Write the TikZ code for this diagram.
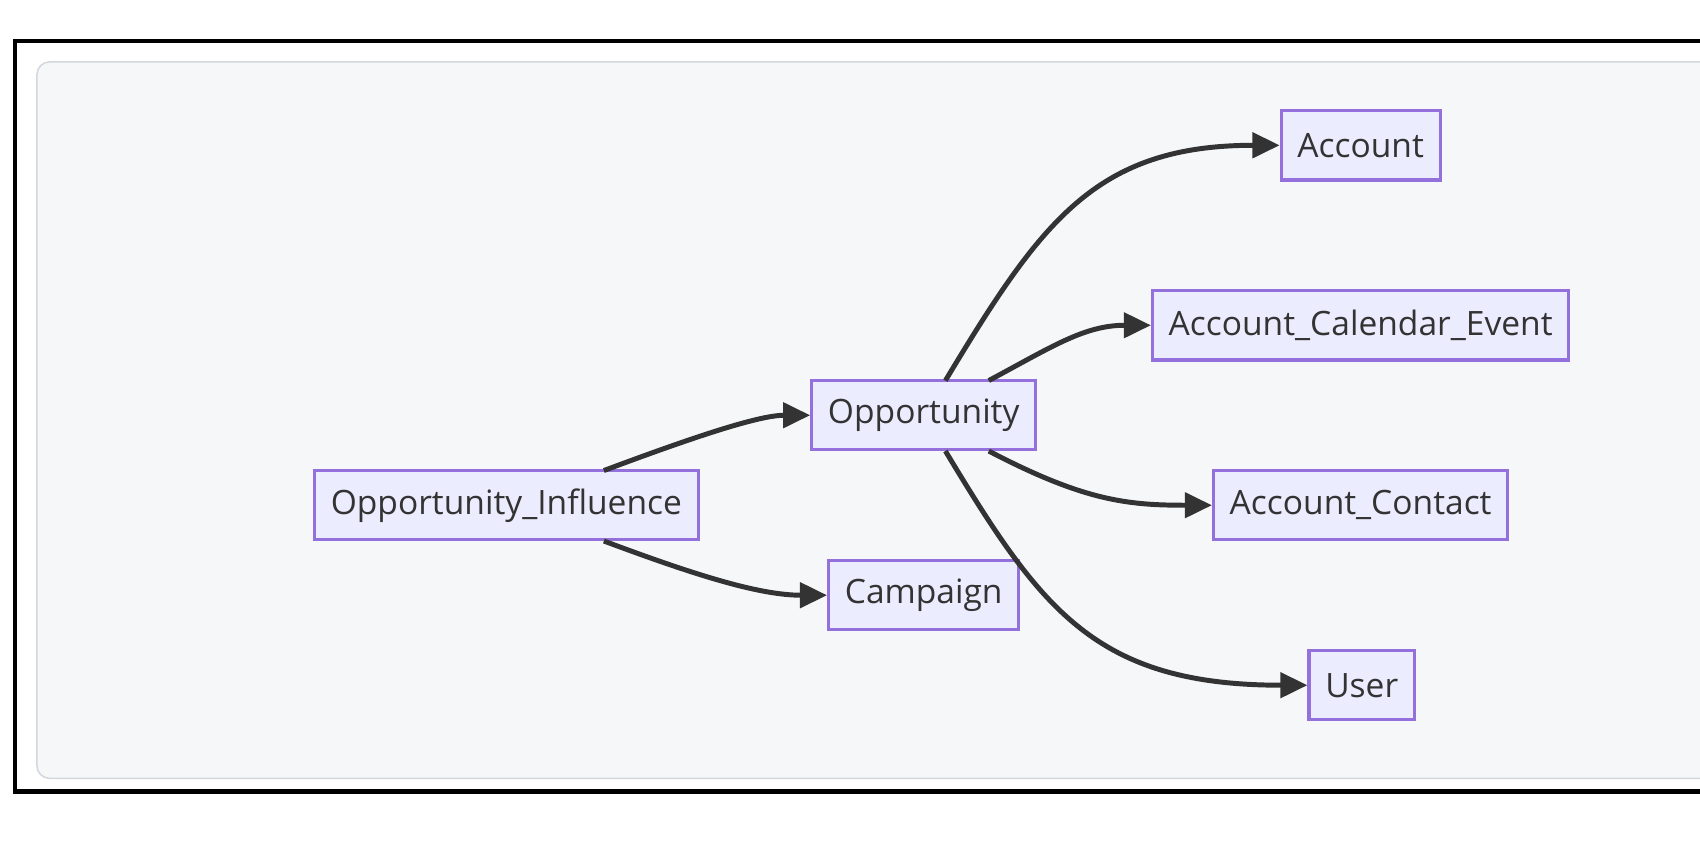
\documentclass[tikz,border=0pt]{standalone}
\usepackage{fontspec}
\setmainfont{Open Sans}
\usetikzlibrary{arrows.meta}
\definecolor{boxfill}{HTML}{ECECFF}
\definecolor{boxline}{HTML}{9370DB}
\definecolor{panel}{HTML}{F6F7F9}
\definecolor{panelline}{HTML}{D3D7DD}
\definecolor{edge}{HTML}{333333}
\begin{document}
\begin{tikzpicture}
[
 x=0.01cm, y=-0.01cm,
 >={Triangle[length=0.25cm,width=0.23cm]},
 entity/.style={draw=boxline,fill=boxfill,line width=0.8pt,rectangle,minimum height=0.64cm,inner xsep=0.15cm,text=edge,font=\fontsize{8.8}{10}\selectfont},
 link/.style={draw=edge,line width=1.3pt,->}
]
\useasboundingbox (0,0) rectangle (1568,784);
\draw [line width=1.1pt] (14,38) rectangle (1600,730);
\draw [panelline,fill=panel,rounded corners=0.12cm] (34,57) rectangle (1620,718);
\node (influence) [entity] at (467,466) {Opportunity\_Influence};
\node (opportunity) [entity] at (852,383) {Opportunity};
\node (campaign) [entity] at (852,549) {Campaign};
\node (account) [entity] at (1255,134) {Account};
\node (event) [entity] at (1255,300) {Account\_Calendar\_Event};
\node (contact) [entity] at (1255,466) {Account\_Contact};
\node (user) [entity] at (1256,632) {User};
\draw[link] (557,434) .. controls (640,403) and (700,383) .. (opportunity.west);
\draw[link] (557,499) .. controls (640,530) and (700,549) .. (campaign.west);
\draw[link] (872,351) .. controls (960,205) and (1010,134) .. (account.west);
\draw[link] (912,351) .. controls (970,320) and (1000,300) .. (event.west);
\draw[link] (912,416) .. controls (1000,462) and (1040,466) .. (contact.west);
\draw[link] (872,416) .. controls (960,562) and (1010,632) .. (user.west);
\end{tikzpicture}
\end{document}
